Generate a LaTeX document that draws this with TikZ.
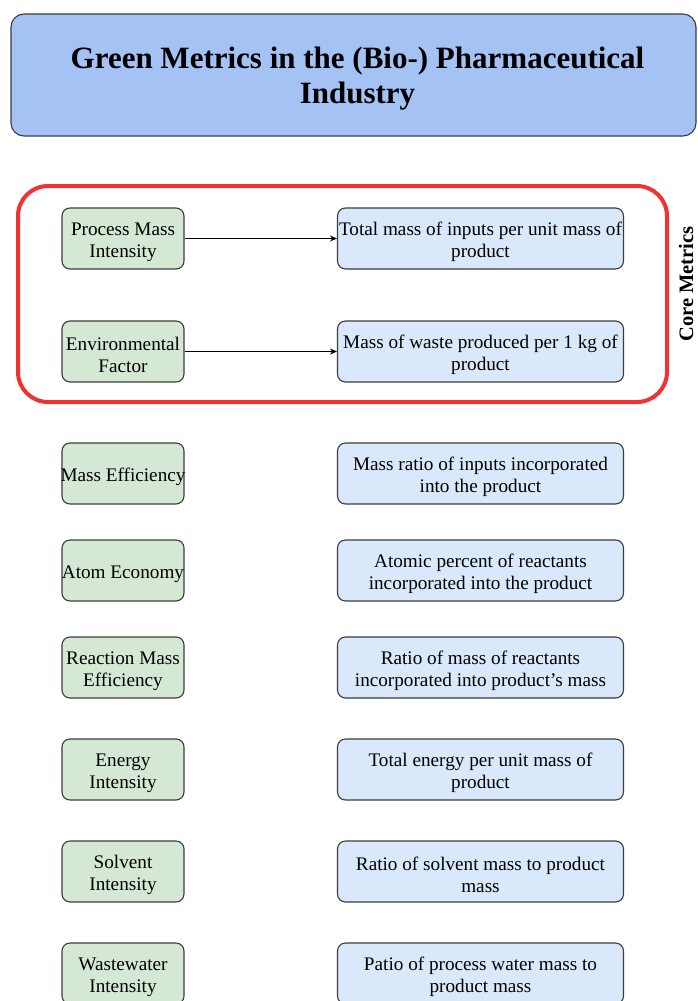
\documentclass[tikz,border=0pt]{standalone}
\usepackage{fontspec}
\setmainfont{Liberation Serif}
\usetikzlibrary{arrows.meta}
\definecolor{greenfill}{HTML}{D5E8D4}
\definecolor{bluefill}{HTML}{DAE8FC}
\definecolor{titlefill}{HTML}{A4C2F4}
\definecolor{boxline}{HTML}{3C3C3C}
\definecolor{corered}{RGB}{240,50,50}
\begin{document}
\begin{tikzpicture}[x=1pt,y=-1pt,
  mbox/.style={draw=boxline, line width=1.1pt, rounded corners=8pt, minimum height=61pt, inner sep=0pt},
  mlab/.style={align=center, font=\fontsize{19.2}{22}\selectfont, inner sep=0pt, yshift=-3.5pt},
  metric/.style={mbox, fill=greenfill, minimum width=122pt},
  desc/.style={mbox, fill=bluefill, minimum width=286pt},
  link/.style={-{Stealth[length=7pt,width=6pt]}, line width=0.9pt, black},
  titlebox/.style={draw=boxline, line width=1.1pt, fill=titlefill, rounded corners=13pt, minimum width=685pt, minimum height=122pt, inner sep=0pt},
  titletext/.style={align=center, inner sep=0pt, font=\fontsize{31}{35}\selectfont\bfseries},
  corebox/.style={draw=corered, line width=4pt, rounded corners=30pt},
  corelabel/.style={rotate=90, font=\fontsize{20.5}{24}\selectfont\bfseries}]
\useasboundingbox (0,0) rectangle (697,1001);
\node[titlebox] (title) at (353.5,75) {};
\node[titletext] (titlet) at (357.5,79) {Green Metrics in the (Bio-) Pharmaceutical\\Industry};
\draw[corebox] (18,186) rectangle (667,402);
\node[corelabel] (core) at (686,284) {Core Metrics};
% rows
\node[metric, label={[mlab]center:Process Mass\\Intensity}] (m1) at (123,238.5) {};
\node[desc, label={[mlab]center:Total mass of inputs per unit mass of\\product}] (d1) at (480.5,238.5) {};
\node[metric, label={[mlab]center:Environmental\\Factor}] (m2) at (123,351.5) {};
\node[desc, label={[mlab]center:Mass of waste produced per 1 kg of\\product}] (d2) at (480.5,351.5) {};
\node[metric, label={[mlab]center:Mass Efficiency}] (m3) at (123,473.5) {};
\node[desc, label={[mlab]center:Mass ratio of inputs incorporated\\into the product}] (d3) at (480.5,473.5) {};
\node[metric, label={[mlab]center:Atom Economy}] (m4) at (123,570.5) {};
\node[desc, label={[mlab]center:Atomic percent of reactants\\incorporated into the product}] (d4) at (480.5,570.5) {};
\node[metric, label={[mlab]center:Reaction Mass\\Efficiency}] (m5) at (123,667.5) {};
\node[desc, label={[mlab]center:Ratio of mass of reactants\\incorporated into product's mass}] (d5) at (480.5,667.5) {};
\node[metric, label={[mlab]center:Energy\\Intensity}] (m6) at (123,769.5) {};
\node[desc, label={[mlab]center:Total energy per unit mass of\\product}] (d6) at (480.5,769.5) {};
\node[metric, label={[mlab]center:Solvent\\Intensity}] (m7) at (123,871.5) {};
\node[desc, label={[mlab]center:Ratio of solvent mass to product\\mass}] (d7) at (480.5,871.5) {};
\node[metric, label={[mlab]center:Wastewater\\Intensity}] (m8) at (123,973.5) {};
\node[desc, label={[mlab]center:Patio of process water mass to\\product mass}] (d8) at (480.5,973.5) {};
\draw[link] (m1) -- (d1);
\draw[link] (m2) -- (d2);
\end{tikzpicture}
\end{document}
